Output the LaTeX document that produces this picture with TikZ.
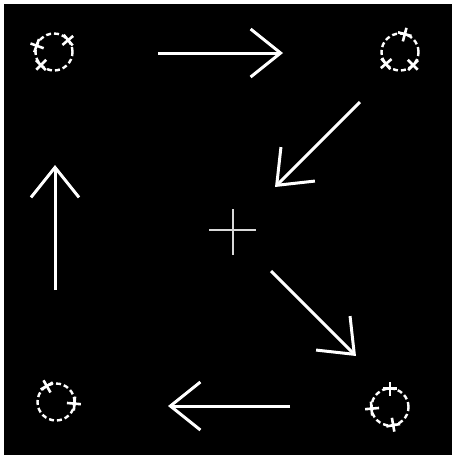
\documentclass[tikz,border=0pt]{standalone}
\usetikzlibrary{arrows.meta}
\begin{document}
\begin{tikzpicture}[x=1pt,y=-1pt,
  bigarrow/.style={draw=white,line width=3pt,-{Straight Barb[length=30pt,width=48pt,line width=3pt]}},
  ring/.style={circle,draw=white,line width=2.4pt,dash pattern=on 5pt off 3pt,minimum size=37pt,inner sep=0pt},
  tick/.style={draw=white,line width=2.6pt},
  crosshair/.style={draw=white!85!black,line width=1.3pt}]
\useasboundingbox (0,0) rectangle (456,459);
\fill[white] (0,0) rectangle (456,459);
\fill[black] (4,4) rectangle (452,455);
% rings
\node[ring] (tl) at (54,52) {};
\node[ring] (tr) at (400,52) {};
\node[ring] (bl) at (56,402) {};
\node[ring] (br) at (390,407) {};
% small crosses on rings (angles measured counter-clockwise on screen)
\foreach \c/\a in {tl/40, tl/160, tl/-135, tr/75, tr/-140, tr/-45, bl/120, bl/-5, br/90, br/-175, br/-80}{
  \begin{scope}[shift={(\c.center)},rotate=\a]
    \draw[tick] (11,0) -- (25,0);
    \draw[tick] (18.5,-7) -- (18.5,7);
  \end{scope}
}
% arrows
\coordinate (a1s) at (158,53);
\coordinate (a1e) at (283,53);
\coordinate (a2s) at (360,102);
\coordinate (a2e) at (275,187);
\coordinate (a3s) at (271,271);
\coordinate (a3e) at (356,356);
\coordinate (a4s) at (290,406);
\coordinate (a4e) at (168,406);
\coordinate (a5s) at (55,290);
\coordinate (a5e) at (55,165);
\draw[bigarrow] (a1s) -- (a1e);
\draw[bigarrow] (a2s) -- (a2e);
\draw[bigarrow] (a3s) -- (a3e);
\draw[bigarrow] (a4s) -- (a4e);
\draw[bigarrow] (a5s) -- (a5e);
% centre cross
\coordinate (cl) at (209,230);
\coordinate (cr) at (256,230);
\coordinate (ct) at (233,209);
\coordinate (cb) at (233,255);
\draw[crosshair] (cl) -- (cr);
\draw[crosshair] (ct) -- (cb);
\end{tikzpicture}
\end{document}
